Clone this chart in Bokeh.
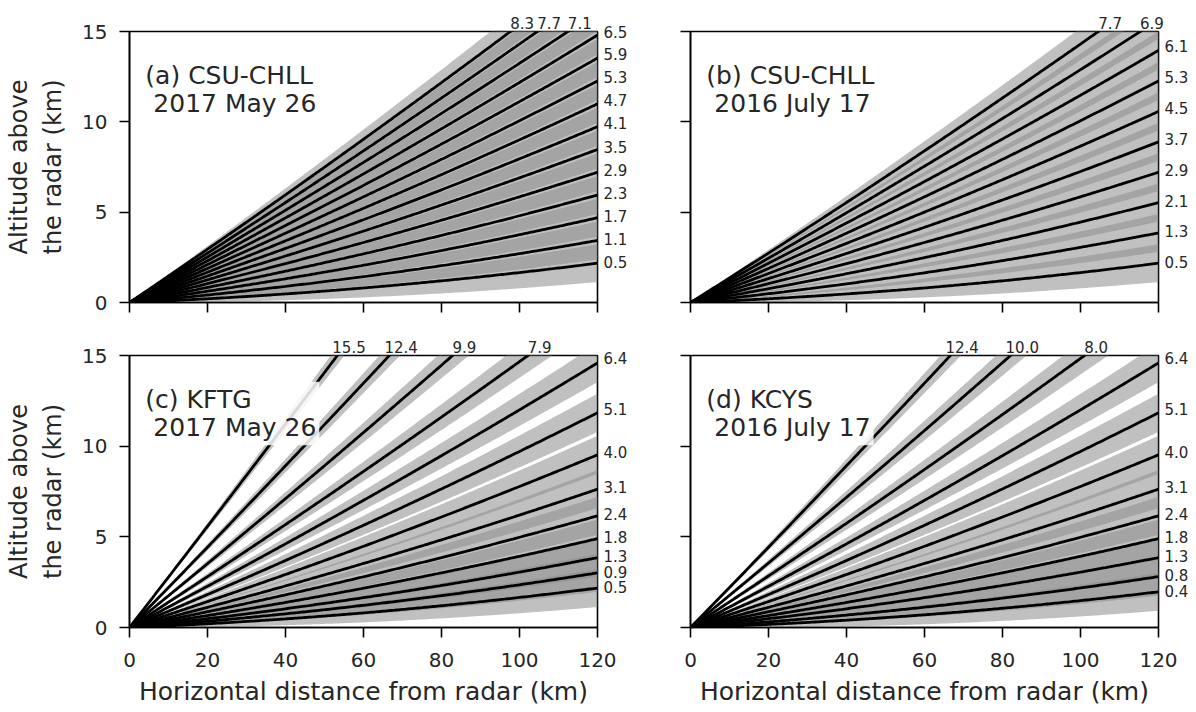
import numpy as np
from bokeh.plotting import figure
from bokeh.layouts import gridplot
from bokeh.models import FixedTicker, Label, LinearAxis, Range1d
from bokeh.embed import file_html
from bokeh.resources import INLINE

# Beam geometry (straight ray over a spherical earth)
EARTH_RADIUS_KM = 6371.0
BEAM_WIDTH_DEG = 1.0
X_MAX = 120.0
Y_MAX = 15.0

# Elevation angles (deg) of each volume scan
angles_a = [0.5, 1.1, 1.7, 2.3, 2.9, 3.5, 4.1, 4.7, 5.3, 5.9, 6.5, 7.1, 7.7, 8.3]
angles_b = [0.5, 1.3, 2.1, 2.9, 3.7, 4.5, 5.3, 6.1, 6.9, 7.7]
angles_c = [0.5, 0.9, 1.3, 1.8, 2.4, 3.1, 4.0, 5.1, 6.4, 7.9, 9.9, 12.4, 15.5]
angles_d = [0.4, 0.8, 1.3, 1.8, 2.4, 3.1, 4.0, 5.1, 6.4, 8.0, 10.0, 12.4]

# second line is indented by one (non-breaking) space
panel_titles = [
    "(a) CSU-CHLL\n\u00a02017 May 26",
    "(b) CSU-CHLL\n\u00a02016 July 17",
    "(c) KFTG\n\u00a02017 May 26",
    "(d) KCYS\n\u00a02016 July 17",
]

x_ticks = [0, 20, 40, 60, 80, 100, 120]
y_ticks = [0, 5, 10, 15]

FONT = "DejaVu Sans"
TEXT_COLOR = "#262626"

# angle labels sit on the ray just past the right edge, and top labels are
# nudged right of the point where the ray leaves the panel (km)
RIGHT_LABEL_RANGE = 122.0
TOP_LABEL_SHIFT = 3.0


def beam_height(r, elev_deg):
    return r * np.tan(np.radians(elev_deg)) + r ** 2 / (2.0 * EARTH_RADIUS_KM)


def top_crossing(elev_deg):
    t = np.tan(np.radians(elev_deg))
    R = EARTH_RADIUS_KM
    return R * (-t + np.sqrt(t * t + 2.0 * Y_MAX / R))


def label_axis(ticks, texts, standoff, **kw):
    ax = LinearAxis(ticker=FixedTicker(ticks=ticks),
                    major_label_overrides=dict(zip(ticks, texts)), **kw)
    ax.axis_line_color = None
    ax.major_tick_line_color = None
    ax.minor_tick_line_color = None
    ax.major_tick_out = 0
    ax.major_tick_in = 0
    ax.minor_tick_out = 0
    ax.minor_tick_in = 0
    ax.major_label_standoff = standoff
    ax.major_label_text_font = FONT
    ax.major_label_text_font_size = "15px"
    ax.major_label_text_color = TEXT_COLOR
    return ax


def make_panel(angles, title, frame_h, borders, show_xlab, show_ylab):
    left, right, top, bottom = borders
    p = figure(frame_width=468, frame_height=frame_h,
               x_range=(0, X_MAX), y_range=(0, Y_MAX),
               output_backend="svg", toolbar_location=None,
               min_border_left=left, min_border_right=right,
               min_border_top=top, min_border_bottom=bottom)
    p.background_fill_color = "white"
    p.border_fill_color = "white"
    p.outline_line_color = "black"
    p.outline_line_width = 1.6
    p.xgrid.visible = False
    p.ygrid.visible = False
    xa = p.below[0]
    ya = p.left[0]

    for ax in (xa, ya):
        ax.axis_line_width = 1.6
        ax.major_tick_line_width = 1.6
        ax.major_tick_out = 10
        ax.major_tick_in = 0
        ax.minor_tick_out = 0
        ax.minor_tick_in = 0
        ax.major_label_text_font = FONT
        ax.major_label_text_font_size = "20px"
        ax.major_label_text_color = TEXT_COLOR
        ax.axis_label_text_font = FONT
        ax.axis_label_text_font_style = "normal"
        ax.axis_label_text_color = TEXT_COLOR
    xa.ticker = FixedTicker(ticks=x_ticks)
    ya.ticker = FixedTicker(ticks=y_ticks)
    xa.major_label_standoff = 15
    ya.major_label_standoff = 12

    if show_xlab:
        xa.axis_label = "Horizontal distance from radar (km)"
        xa.axis_label_text_font_size = "25px"
        xa.axis_label_standoff = 7
    else:
        xa.major_label_overrides = {t: "" for t in x_ticks}
    if show_ylab:
        ya.axis_label = "Altitude above\nthe radar (km)"
        ya.axis_label_text_font_size = "24px"
        ya.axis_label_standoff = 12
    else:
        ya.major_label_overrides = {t: "" for t in y_ticks}

    r = np.linspace(0.0, X_MAX, 241)
    beam_xs, beam_ys, ray_xs, ray_ys = [], [], [], []
    for a in angles:
        lo = beam_height(r, a - BEAM_WIDTH_DEG / 2)
        hi = beam_height(r, a + BEAM_WIDTH_DEG / 2)
        beam_xs.append(np.concatenate([r, r[::-1]]))
        beam_ys.append(np.concatenate([lo, hi[::-1]]))
        ray_xs.append(r)
        ray_ys.append(beam_height(r, a))

    p.patches(beam_xs, beam_ys, fill_color="#8c8c8c", fill_alpha=0.55,
              line_color=None)
    p.multi_line(ray_xs, ray_ys, line_color="black", line_width=2.8)

    # angle labels: on the right edge, or along the top where the ray exits
    right_pos, right_txt, top_pos, top_txt = [], [], [], []
    for a in angles:
        if float(beam_height(X_MAX, a)) <= Y_MAX:
            right_pos.append(min(float(beam_height(RIGHT_LABEL_RANGE, a)), Y_MAX))
            right_txt.append(f"{a:.1f}")
        else:
            top_pos.append(float(top_crossing(a)))
            top_txt.append(f"{a:.1f}")
    p.add_layout(label_axis(right_pos, right_txt, 6), "right")
    if top_pos:
        p.extra_x_ranges = {"top_labels": Range1d(-TOP_LABEL_SHIFT,
                                                  X_MAX - TOP_LABEL_SHIFT)}
        top_ax = label_axis(top_pos, top_txt, 3, x_range_name="top_labels")
        p.add_layout(top_ax, "above")

    p.add_layout(Label(x=3.3, y=13.55, text=title, text_font=FONT,
                       text_font_size="25px", text_color=TEXT_COLOR,
                       text_align="left", text_baseline="top",
                       text_line_height=0.98, padding=3,
                       background_fill_color="white",
                       background_fill_alpha=0.85))
    return p


pa = make_panel(angles_a, panel_titles[0], 271, (129, 46, 31, 27), False, True)
pb = make_panel(angles_b, panel_titles[1], 271, (47, 38, 31, 27), False, False)
pc = make_panel(angles_c, panel_titles[2], 272, (129, 46, 26, 85), True, True)
pd = make_panel(angles_d, panel_titles[3], 272, (47, 38, 26, 85), True, False)

grid = gridplot([[pa, pb], [pc, pd]], toolbar_location=None)

open("out.html", "w").write(file_html(grid, INLINE))
